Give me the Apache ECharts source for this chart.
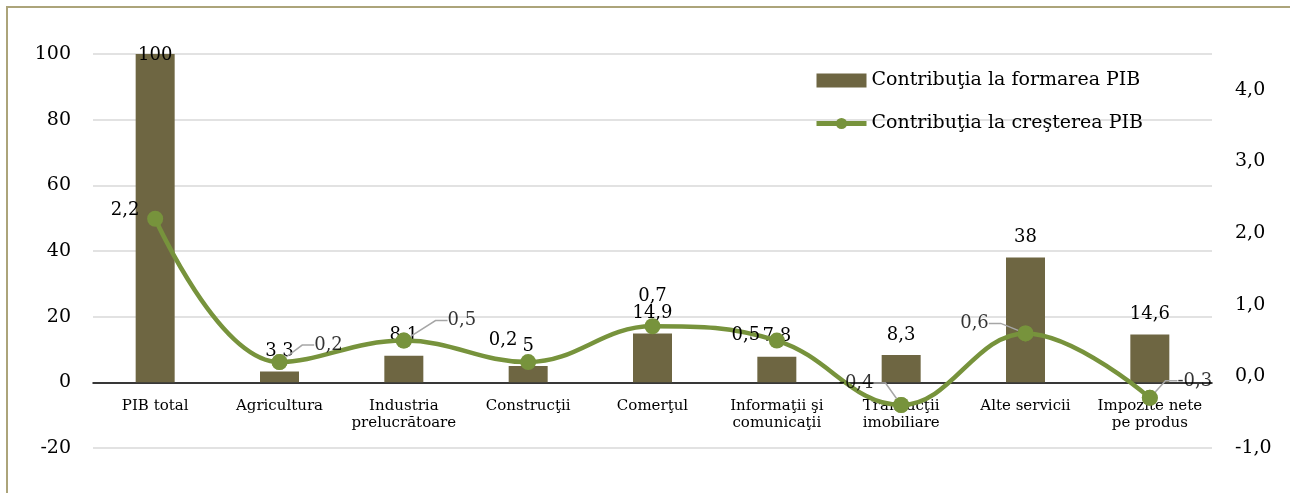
<!DOCTYPE html>
<html><head><meta charset="utf-8">
<script src="https://cdn.jsdelivr.net/npm/echarts@6/dist/echarts.min.js"></script>
<style>
html,body{margin:0;padding:0;background:#fff;width:1290px;height:493px;overflow:hidden;}
#topline{position:absolute;left:6px;top:6px;width:1284px;height:2px;background:#aca47a;}
#leftline{position:absolute;left:6px;top:6px;width:2px;height:487px;background:#aca47a;}
#c{position:absolute;left:0;top:0;width:1290px;height:493px;}
</style></head><body>
<div id="topline"></div><div id="leftline"></div>
<div id="c"></div>
<script>
const categories = ['PIB total','Agricultura','Industria\nprelucrătoare','Construcţii','Comerţul','Informaţii şi\ncomunicaţii','Tranzacţii\nimobiliare','Alte servicii','Impozite nete\npe produs'];
const formare = [100, 3.3, 8.1, 5, 14.9, 7.8, 8.3, 38, 14.6];
const crestere = [2.2, 0.2, 0.5, 0.2, 0.7, 0.5, -0.4, 0.6, -0.3];
const leftTicks = {min: -20, max: 100, interval: 20};
const rightTicks = {min: -1, max: 4.5, interval: 1};
const seriesNames = ['Contribuţia la formarea PIB', 'Contribuţia la creşterea PIB'];

// label placement (style only)
const lineLabelOffset = {0: [-30, -8], 3: [-25, -22], 4: [0, -30], 5: [-31, -5]};
const leaderShift = {1: [49, -17], 2: [58, -20], 6: [-45, -22], 7: [-51, -10], 8: [45, -17]};
const barLabelOffset = {0: [0, 21]};

const FONT = '"DejaVu Serif", "Liberation Serif", serif';
const fmt = v => String(v).replace('.', ',');
const fmt1 = v => v.toFixed(1).replace('.', ',');

const chart = echarts.init(document.getElementById('c'), null, {renderer: 'canvas'});
chart.setOption({
  animation: false,
  textStyle: {fontFamily: FONT, color: '#000'},
  grid: {left: 93, right: 78, top: 54, bottom: 45},
  legend: {
    orient: 'vertical', left: 809, top: 66, itemWidth: 50, itemHeight: 14, itemGap: 24,
    textStyle: {fontFamily: FONT, fontSize: 19, color: '#000'},
    data: [{name: seriesNames[0], icon: 'rect', itemStyle: {color: '#6e6642'}},
           {name: seriesNames[1], lineStyle: {width: 5, color: '#77933c'}}]
  },
  xAxis: {
    type: 'category', data: categories,
    axisLine: {onZero: true, lineStyle: {color: '#000', width: 1.5}},
    axisTick: {show: false},
    axisLabel: {fontFamily: FONT, fontSize: 15, color: '#000', margin: -50, lineHeight: 17, interval: 0}
  },
  yAxis: [
    {type: 'value', min: leftTicks.min, max: leftTicks.max, interval: leftTicks.interval,
     axisLine: {show: false}, axisTick: {show: false},
     axisLabel: {fontFamily: FONT, fontSize: 19, color: '#000', margin: 22},
     splitLine: {lineStyle: {color: '#d9d9d9', width: 1.5}}},
    {type: 'value', min: rightTicks.min, max: rightTicks.max, interval: rightTicks.interval,
     axisLine: {show: false}, axisTick: {show: false}, splitLine: {show: false},
     axisLabel: {fontFamily: FONT, fontSize: 19, color: '#000', margin: 23, showMaxLabel: false, formatter: fmt1}}
  ],
  series: [
    {
      name: seriesNames[0], type: 'bar', barWidth: 39, yAxisIndex: 0,
      itemStyle: {color: '#6e6642'},
      data: formare.map((v, i) => ({value: v, label: barLabelOffset[i] ? {offset: barLabelOffset[i]} : undefined})),
      label: {show: true, position: 'top', distance: 11, fontFamily: FONT, fontSize: 18, color: '#000', formatter: p => fmt(p.value)},
      z: 2
    },
    {
      name: seriesNames[1], type: 'line', yAxisIndex: 1, smooth: 0.4,
      symbol: 'circle', symbolSize: 16, showSymbol: true,
      lineStyle: {color: '#77933c', width: 4.5},
      itemStyle: {color: '#77933c'},
      data: crestere.map((v, i) => ({value: v, label: {show: !!lineLabelOffset[i], offset: lineLabelOffset[i] || [0, 0]}})),
      label: {show: true, position: 'inside', fontFamily: FONT, fontSize: 18, color: '#000', formatter: p => fmt(p.value)},
      z: 3
    },
    {
      name: 'leader', type: 'scatter', yAxisIndex: 1, symbol: 'circle', symbolSize: 16,
      itemStyle: {color: '#77933c'},
      data: crestere.map((v, i) => leaderShift[i] ? v : '-'),
      label: {show: true, position: 'inside', fontFamily: FONT, fontSize: 18, color: '#000', formatter: p => fmt(p.value)},
      labelLayout: p => {const s = leaderShift[p.dataIndex]; return s ? {dx: s[0], dy: s[1]} : {};},
      labelLine: {show: true, length2: 12, lineStyle: {color: '#a6a6a6', width: 1.5}},
      z: 4
    }
  ]
});
</script>
</body></html>
